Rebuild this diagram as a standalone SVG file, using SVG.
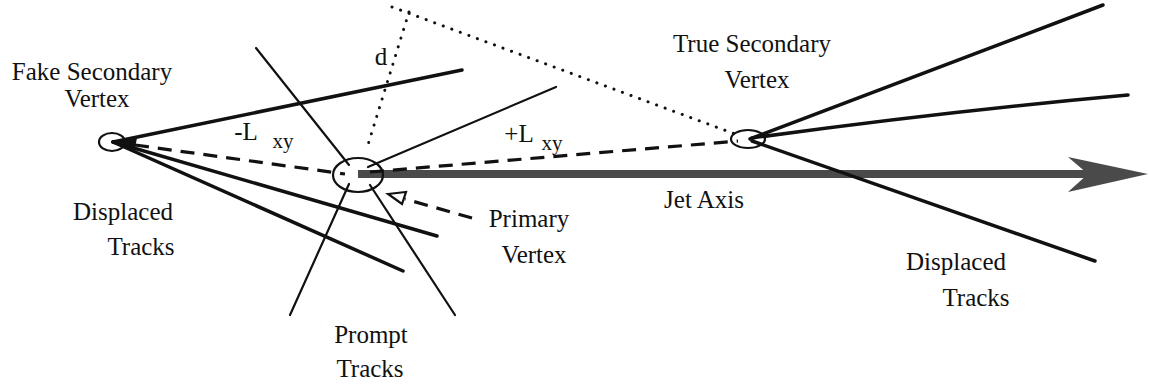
<svg xmlns="http://www.w3.org/2000/svg" width="1149" height="388" viewBox="0 0 1149 388">
<style>
.thick{stroke:#111;stroke-width:3.5;fill:none;stroke-linecap:round}
.thin{stroke:#111;stroke-width:2.2;fill:none;stroke-linecap:round}
.dash{stroke:#111;stroke-width:3.2;fill:none;stroke-dasharray:14 9}
.dot{stroke:#111;stroke-width:3;fill:none;stroke-dasharray:0.1 9;stroke-linecap:round}
.vtx{stroke:#111;stroke-width:2.2;fill:none}
text{fill:#111;text-anchor:middle;font-size:25px;font-family:'Liberation Serif','Times New Roman',serif}
.sub{font-size:21px}
</style>
<g id="connectors">
  <line x1="358" y1="174" x2="1090" y2="174" stroke="#4a4a4a" stroke-width="8"/>
  <path d="M1148,174 L1068,157 L1088,174 L1068,192 Z" fill="#4a4a4a"/>
  <line class="thick" x1="113" y1="142" x2="462" y2="70"/>
  <line class="thick" x1="113" y1="142" x2="437" y2="236"/>
  <line class="thick" x1="113" y1="142" x2="403" y2="271"/>
  <line class="dash" x1="135" y1="145" x2="345" y2="174"/>
  <path d="M113,142 L137,138 L135,148 Z" fill="#111"/>
  <line class="dash" x1="370" y1="172" x2="738" y2="141"/>
  <line class="dot" x1="392" y1="7" x2="735" y2="134"/>
  <line class="dot" x1="409" y1="12" x2="367" y2="148"/>
  <line class="thin" x1="256" y1="48" x2="349" y2="165"/>
  <line class="thin" x1="370" y1="185" x2="455" y2="315"/>
  <line class="thin" x1="349" y1="184" x2="290" y2="315"/>
  <line class="thin" x1="368" y1="167" x2="556" y2="87"/>
  <line class="thick" x1="750" y1="139" x2="1103" y2="5"/>
  <path class="thick" d="M752,138 Q940,112 1128,95"/>
  <line class="thick" x1="752" y1="141" x2="1095" y2="261"/>
  <line class="dash" x1="472" y1="218" x2="405" y2="199" stroke-width="2.2" stroke-dasharray="11 8"/>
  <path d="M388,194 L406,192 L402,204 Z" fill="#fff" stroke="#111" stroke-width="2.2"/>
</g>
<g id="fake-vertex">
  <ellipse class="vtx" cx="112" cy="142" rx="13" ry="9"/>
  <text x="92" y="80">Fake Secondary</text>
  <text x="97" y="107">Vertex</text>
</g>
<g id="primary-vertex">
  <ellipse class="vtx" cx="358" cy="175" rx="25" ry="17"/>
  <text x="529" y="227">Primary</text>
  <text x="534" y="263">Vertex</text>
</g>
<g id="true-vertex">
  <ellipse class="vtx" cx="748" cy="139" rx="17" ry="9"/>
  <text x="752" y="52">True Secondary</text>
  <text x="757" y="88">Vertex</text>
</g>
<g id="labels">
  <text x="246" y="140">-L</text>
  <text class="sub" x="283" y="148">xy</text>
  <text x="519" y="142">+L</text>
  <text class="sub" x="552" y="150">xy</text>
  <text x="381" y="65">d</text>
  <text x="123" y="220">Displaced</text>
  <text x="141" y="255">Tracks</text>
  <text x="704" y="208">Jet Axis</text>
  <text x="956" y="270">Displaced</text>
  <text x="976" y="306">Tracks</text>
  <text x="371" y="343">Prompt</text>
  <text x="370" y="377">Tracks</text>
</g>
</svg>
